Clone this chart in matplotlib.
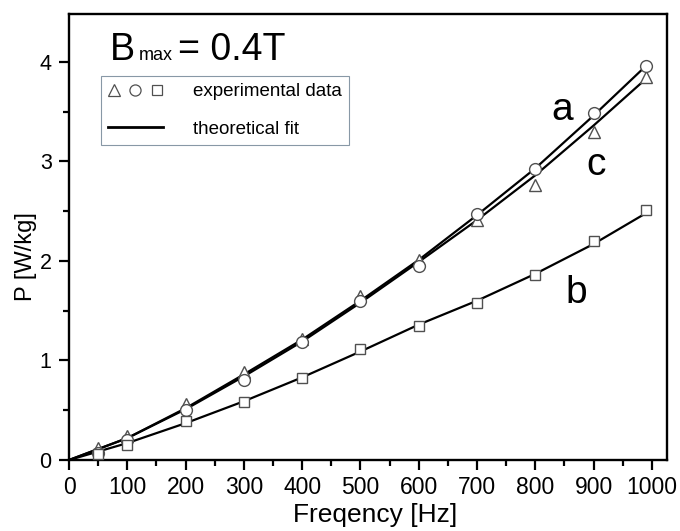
import matplotlib
matplotlib.use("Agg")
import matplotlib.pyplot as plt
from matplotlib.lines import Line2D
from matplotlib.legend_handler import HandlerTuple

plt.rcParams['font.family'] = ['Liberation Sans', 'DejaVu Sans']

# Data
freq = [50, 100, 200, 300, 400, 500, 600, 700, 800, 900, 990]
p_a = [0.07, 0.20, 0.50, 0.80, 1.19, 1.60, 1.95, 2.47, 2.92, 3.49, 3.96]   # circles
p_c = [0.12, 0.24, 0.56, 0.88, 1.22, 1.65, 2.01, 2.41, 2.76, 3.29, 3.85]   # triangles
p_b = [0.06, 0.15, 0.39, 0.58, 0.82, 1.11, 1.35, 1.58, 1.86, 2.20, 2.51]   # squares

fit_freq = [0, 100, 200, 300, 400, 500, 600, 700, 800, 900, 990]
fit_a = [0, 0.22, 0.52, 0.86, 1.21, 1.60, 2.01, 2.46, 2.93, 3.46, 3.96]
fit_c = [0, 0.22, 0.51, 0.84, 1.19, 1.58, 1.99, 2.41, 2.86, 3.36, 3.83]
fit_b = [0, 0.17, 0.37, 0.59, 0.83, 1.09, 1.36, 1.60, 1.87, 2.17, 2.48]

xticks = [0, 100, 200, 300, 400, 500, 600, 700, 800, 900, 1000]
yticks = [0, 1, 2, 3, 4]

fig = plt.figure(figsize=(6.8, 5.31), dpi=100)
ax = fig.add_axes([0.1015, 0.1337, 0.8795, 0.84])

for fy in (fit_a, fit_c, fit_b):
    ax.plot(fit_freq, fy, color='black', lw=1.6, zorder=2)

ec = '#505050'
mk = dict(mfc='white', mec=ec, mew=1.0, ls='none', zorder=3)
ax.plot(freq, p_c, marker='^', ms=9, **mk)
ax.plot(freq, p_a, marker='o', ms=8.5, **mk)
ax.plot(freq, p_b, marker='s', ms=7.5, **mk)

ax.set_xlim(0, 1026)
ax.set_ylim(0, 4.48)
ax.set_xticks(xticks)
ax.set_yticks(yticks)
ax.set_xticks([50 + 100 * i for i in range(10)], minor=True)
ax.set_yticks([0.5, 1.5, 2.5, 3.5], minor=True)
ax.tick_params(which='major', direction='out', length=7, width=1.6)
ax.tick_params(which='minor', direction='out', length=4.5, width=1.6)
ax.tick_params(axis='x', which='major', labelsize=16.5, pad=4.5)
ax.tick_params(axis='y', which='major', labelsize=15.5, pad=5.5)
for s in ax.spines.values():
    s.set_linewidth(1.7)

ax.set_xlabel('Freqency [Hz]', fontsize=19)
ax.xaxis.label.set(va='baseline', ha='center')
ax.xaxis.set_label_coords(0.512, -0.139)
ax.set_ylabel('P [W/kg]', fontsize=17)
ax.yaxis.label.set(va='center', ha='center')
ax.yaxis.set_label_coords(-0.072, 0.457)

# B_max annotation
ax.text(0.068, 0.897, 'B', transform=ax.transAxes, fontsize=27, ha='left', va='baseline')
ax.text(0.117, 0.897, 'max', transform=ax.transAxes, fontsize=13, ha='left', va='baseline')
ax.text(0.182, 0.897, '= 0.4T', transform=ax.transAxes, fontsize=27, ha='left', va='baseline')

# curve labels
ax.text(846, 3.41, 'a', fontsize=28, ha='center', va='baseline')
ax.text(904, 2.86, 'c', fontsize=28, ha='center', va='baseline')
ax.text(871, 1.58, 'b', fontsize=28, ha='center', va='baseline')

# legend
tri = Line2D([], [], marker='^', ms=8.5, mfc='white', mec=ec, mew=0.9, ls='none')
cir = Line2D([], [], marker='o', ms=8, mfc='white', mec=ec, mew=0.9, ls='none')
sq = Line2D([], [], marker='s', ms=7.5, mfc='white', mec=ec, mew=0.9, ls='none')
ln = Line2D([], [], color='black', lw=2)
leg = ax.legend([(tri, cir, sq), ln], ['experimental data', 'theoretical fit'],
                handler_map={tuple: HandlerTuple(ndivide=None, pad=0.5)},
                loc='upper left', bbox_to_anchor=(0.053, 0.862), borderaxespad=0,
                fontsize=13.5, frameon=True, fancybox=False, handlelength=2.9,
                handletextpad=1.6, labelspacing=1.1, borderpad=0.4)
leg.get_frame().set_edgecolor('#6a7f90')
leg.get_frame().set_linewidth(0.8)

fig.savefig('out.png', dpi=100)
